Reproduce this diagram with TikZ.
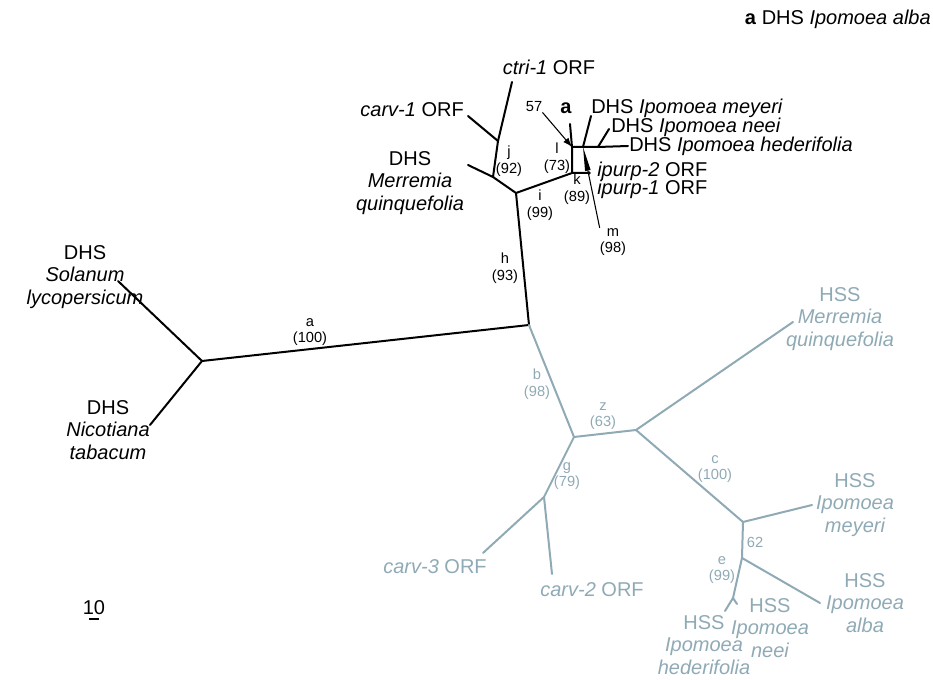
\documentclass[tikz,border=0pt]{standalone}
\usepackage{fontspec}
\setmainfont{Liberation Sans}
\usetikzlibrary{arrows.meta}
\definecolor{hssgray}{RGB}{143,170,181}
\newcommand{\taxfont}{\fontsize{15}{17}\selectfont}
\newcommand{\suppfont}{\fontsize{11}{12.5}\selectfont}

\begin{document}
\begin{tikzpicture}[x=0.75pt, y=-0.75pt,
    branch/.style={line width=1.5pt, line cap=round},
    hssbranch/.style={branch, draw=hssgray},
    taxon/.style={font=\taxfont, align=center, inner sep=0pt},
    tightrow/.style={taxon, anchor=west, text height=10.8pt, text depth=1.5pt},
    supp/.style={font=\suppfont, align=center, inner sep=0pt},
    pointer/.style={line width=0.8pt}
  ]
  \useasboundingbox (0,0) rectangle (933,680);

  % DHS part of the tree
  \coordinate (R) at (529,325);
  \coordinate (L) at (202,361);
  \coordinate (sol) at (118,281);
  \coordinate (nic) at (150,425);
  \coordinate (I) at (516,193);
  \coordinate (J) at (493,177);
  \coordinate (J2) at (498,141);
  \coordinate (mer) at (468,165);
  \coordinate (carv1) at (468,116);
  \coordinate (ctri1) at (512,82);
  \coordinate (K) at (572,173);
  \coordinate (ipurp) at (589,173);
  \coordinate (Lt) at (572,147);
  \coordinate (alba) at (570,124);
  \coordinate (Mj) at (583,147);
  \coordinate (meyeri) at (591,116);
  \coordinate (Nj) at (598,147);
  \coordinate (neei) at (609,129);
  \coordinate (heder) at (628,146);

  \draw[branch] (sol) -- (L) -- (nic);
  \draw[branch] (L) -- (R) -- (I);
  \draw[branch] (I) -- (J) -- (mer);
  \draw[branch] (J) -- (J2) -- (carv1);
  \draw[branch] (J2) -- (ctri1);
  \draw[branch] (I) -- (K) -- (ipurp);
  \draw[branch] (K) -- (Lt) -- (alba);
  \draw[branch] (Lt) -- (Mj) -- (Nj) -- (heder);
  \draw[branch] (Mj) -- (meyeri);
  \draw[branch] (Nj) -- (neei);
  \fill (ipurp) circle (1.8);

  % HSS part of the tree
  \coordinate (B) at (574,437);
  \coordinate (Z) at (636,430);
  \coordinate (G) at (544,497);
  \coordinate (carv3) at (483,553);
  \coordinate (carv2) at (552,574);
  \coordinate (merH) at (793,322);
  \coordinate (C) at (743,522);
  \coordinate (meyH) at (812,505);
  \coordinate (E) at (742,558);
  \coordinate (albaH) at (820,603);
  \coordinate (F) at (733,598);
  \coordinate (hedH) at (725,611);
  \coordinate (neeiH) at (737,604);

  \draw[hssbranch] (R) -- (B) -- (Z) -- (merH);
  \draw[hssbranch] (B) -- (G) -- (carv3);
  \draw[hssbranch] (G) -- (carv2);
  \draw[hssbranch] (Z) -- (C) -- (meyH);
  \draw[hssbranch] (C) -- (E) -- (albaH);
  \draw[hssbranch] (E) -- (F) -- (hedH);
  \draw[hssbranch] (F) -- (neeiH);

  % taxa
  \node[taxon] (tsol) at (85,277) {DHS\\\itshape Solanum\\\itshape lycopersicum};
  \node[taxon] (tnic) at (108,430) {DHS\\\itshape Nicotiana\\\itshape tabacum};
  \node[taxon] (tmer) at (410,183) {DHS\\\itshape Merremia\\\itshape quinquefolia};
  \node[taxon, anchor=east] (tcarv1) at (464,110) {\textit{carv-1} ORF};
  \node[taxon] (tctri1) at (549,67) {\textit{ctri-1} ORF};
  \node[tightrow] (tmey) at (591,107.5) {DHS \textit{Ipomoea meyeri}};
  \node[tightrow] (tnee) at (611,126.5) {DHS \textit{Ipomoea neei}};
  \node[tightrow] (thed) at (629,145) {DHS \textit{Ipomoea hederifolia}};
  \node[tightrow] (tip2) at (597,170) {\textit{ipurp-2} ORF};
  \node[tightrow] (tip1) at (597,188) {\textit{ipurp-1} ORF};
  \node[taxon, font=\taxfont\bfseries] (talba) at (566,108) {a};
  \node[taxon, anchor=east] (legend) at (931,19) {\textbf{a} DHS \textit{Ipomoea alba}};

  \begin{scope}[hssgray]
    \node[taxon] (tmerH) at (840,319) {HSS\\\itshape Merremia\\\itshape quinquefolia};
    \node[taxon] (tmeyH) at (855,505) {HSS\\\itshape Ipomoea\\\itshape meyeri};
    \node[taxon] (talbaH) at (865,603) {HSS\\\itshape Ipomoea\\\itshape alba};
    \node[taxon] (tneeiH) at (770,628) {HSS\\\itshape Ipomoea\\\itshape neei};
    \node[taxon] (thedH) at (704,645) {HSS\\\itshape Ipomoea\\\itshape hederifolia};
    \node[taxon] (tcarv3) at (435,567) {\textit{carv-3} ORF};
    \node[taxon] (tcarv2) at (592,590) {\textit{carv-2} ORF};
  \end{scope}

  % branch labels (bootstrap)
  \node[supp] (sa) at (310,332) {a\\(100)};
  \node[supp] (sh) at (505,268) {h\\(93)};
  \node[supp] (si) at (540,205) {i\\(99)};
  \node[supp] (sj) at (509,161) {j\\(92)};
  \node[supp] (sk) at (577,189) {k\\(89)};
  \node[supp] (sl) at (557,158) {l\\(73)};
  \node[supp] (sm) at (613,242) {m\\(98)};
  \node[supp] (s57) at (534,107) {57};
  \begin{scope}[hssgray]
    \node[supp] (sb) at (537,384) {b\\(98)};
    \node[supp] (sz) at (603,416) {z\\(63)};
    \node[supp] (sg) at (567,476) {g\\(79)};
    \node[supp] (sc) at (715,469) {c\\(100)};
    \node[supp] (se) at (722,570) {e\\(99)};
    \node[supp] (s62) at (755,542) {62};
  \end{scope}

  % pointers
  \draw[pointer, -{Latex[length=7pt, width=5pt]}] (s57.south east) -- (Lt);
  \draw[pointer, -{Triangle[length=18pt, width=4pt]}] (sm.north west) -- (Mj);

  % scale bar
  \node[supp, font=\taxfont] (scale) at (94,608) {10};
  \coordinate (sbl) at (89,619);
  \coordinate (sbr) at (99,619);
  \draw[line width=1pt] (sbl) -- (sbr);
\end{tikzpicture}
\end{document}
